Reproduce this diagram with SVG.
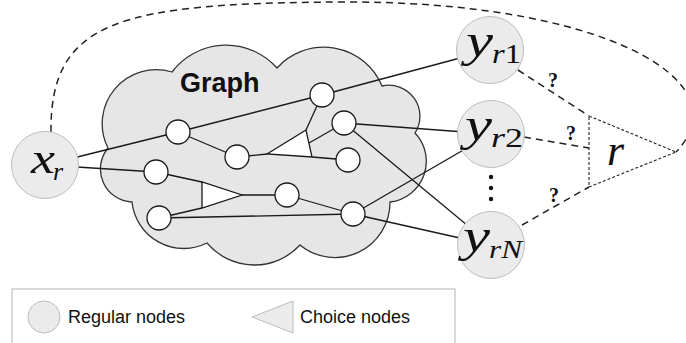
<svg xmlns="http://www.w3.org/2000/svg" width="686" height="343" viewBox="0 0 686 343">
<style>
.bub{fill:#ebebeb;stroke:#bdbdbd;stroke-width:1}
.gn{fill:#fff;stroke:#1a1a1a;stroke-width:1.3}
.edge{stroke:#1a1a1a;stroke-width:1.3;fill:none}
.dash{stroke:#222;stroke-width:1.5;stroke-dasharray:7 5;fill:none}
.fdash{stroke:#222;stroke-width:1.1;stroke-dasharray:3 2;fill:none}
.math{font-family:"Liberation Serif","Times New Roman",serif;font-style:italic;fill:#111}
.up{font-style:normal}
.q{font-family:"Liberation Serif","Times New Roman",serif;font-weight:bold;font-size:20px;fill:#111;text-anchor:middle}
.sans{font-family:"Liberation Sans",Arial,sans-serif;fill:#111}
</style>
<rect width="686" height="343" fill="#fff"/>
<g id="cloud">
<path d="M108 148 A54 54 0 0 1 172 72 A68 68 0 0 1 277 68 A63 63 0 0 1 382 86 A31 31 0 0 1 415 133 A41 41 0 0 1 390 202 A55 55 0 0 1 300 245 A62 62 0 0 1 207 243 A52 52 0 0 1 132 202 A33 33 0 0 1 108 148 Z" fill="#e6e6e6" stroke="#333" stroke-width="1.3"/>
<text class="sans" x="180" y="92" font-size="27" font-weight="bold">Graph</text>
</g>
<g id="connectors">
<path class="dash" d="M51 132 C50 20 120 3 343 2 C600 1 745 80 676 152"/>
<line class="edge" x1="45" y1="165" x2="178" y2="132"/>
<line class="edge" x1="178" y1="132" x2="322" y2="95"/>
<line class="edge" x1="322" y1="95" x2="490" y2="50"/>
<line class="edge" x1="45" y1="165" x2="156" y2="172"/>
<line class="edge" x1="178" y1="132" x2="237" y2="157"/>
<line class="edge" x1="237" y1="157" x2="267" y2="154"/>
<line class="edge" x1="322" y1="95" x2="306" y2="130"/>
<line class="edge" x1="344" y1="123" x2="309" y2="143"/>
<line class="edge" x1="312" y1="157" x2="348" y2="160"/>
<line class="edge" x1="156" y1="172" x2="202" y2="182"/>
<line class="edge" x1="159" y1="218" x2="202" y2="208"/>
<line class="edge" x1="242" y1="195" x2="287" y2="195"/>
<line class="edge" x1="159" y1="218" x2="353" y2="214"/>
<line class="edge" x1="287" y1="195" x2="353" y2="214"/>
<line class="edge" x1="344" y1="123" x2="491" y2="134"/>
<line class="edge" x1="344" y1="123" x2="491" y2="245"/>
<line class="edge" x1="353" y1="214" x2="491" y2="134"/>
<line class="edge" x1="353" y1="214" x2="491" y2="245"/>
<line class="dash" x1="518" y1="70" x2="589" y2="116"/>
<line class="dash" x1="524" y1="137" x2="589" y2="148"/>
<line class="dash" x1="522" y1="225" x2="589" y2="187"/>
<text class="q" x="553" y="87">?</text>
<text class="q" x="571" y="140">?</text>
<text class="q" x="554" y="202">?</text>
</g>
<g id="choice1"><polygon points="267,154 306,130 312,157" fill="#fff" stroke="#1a1a1a" stroke-width="1.3"/></g>
<g id="choice2"><polygon points="202,182 202,208 242,195" fill="#fff" stroke="#1a1a1a" stroke-width="1.3"/></g>
<g id="r">
<polygon class="fdash" points="589,116 676,152 589,187"/>
<text class="math" x="607" y="165" font-size="44">r</text>
</g>
<g id="nA"><circle class="gn" cx="178" cy="132" r="12"/></g>
<g id="nB"><circle class="gn" cx="322" cy="95" r="12"/></g>
<g id="nC"><circle class="gn" cx="237" cy="157" r="12"/></g>
<g id="nD"><circle class="gn" cx="344" cy="123" r="12"/></g>
<g id="nE"><circle class="gn" cx="348" cy="160" r="12"/></g>
<g id="nF"><circle class="gn" cx="156" cy="172" r="12"/></g>
<g id="nG"><circle class="gn" cx="287" cy="195" r="12"/></g>
<g id="nH"><circle class="gn" cx="159" cy="218" r="12"/></g>
<g id="nI"><circle class="gn" cx="353" cy="214" r="12"/></g>
<g id="xr">
<circle class="bub" cx="45" cy="165" r="33.5"/>
<text class="math" x="31" y="173" font-size="44" textLength="24" lengthAdjust="spacingAndGlyphs">x</text>
<text class="math" x="53" y="180" font-size="26">r</text>
</g>
<g id="yr1">
<circle class="bub" cx="490" cy="50" r="33.5"/>
<text class="math" x="466" y="56" font-size="46" textLength="27" lengthAdjust="spacingAndGlyphs">y</text>
<text class="math" x="492" y="63" font-size="28" textLength="29" lengthAdjust="spacingAndGlyphs">r<tspan class="up">1</tspan></text>
</g>
<g id="yr2">
<circle class="bub" cx="491" cy="134" r="33.5"/>
<text class="math" x="465" y="140" font-size="46" textLength="27" lengthAdjust="spacingAndGlyphs">y</text>
<text class="math" x="491" y="147" font-size="28" textLength="32" lengthAdjust="spacingAndGlyphs">r<tspan class="up">2</tspan></text>
</g>
<g id="dots">
<circle cx="491" cy="177" r="2.2" fill="#111"/>
<circle cx="491" cy="188" r="2.2" fill="#111"/>
<circle cx="491" cy="199" r="2.2" fill="#111"/>
</g>
<g id="yrN">
<circle class="bub" cx="491" cy="245" r="33.5"/>
<text class="math" x="463" y="251" font-size="46" textLength="27" lengthAdjust="spacingAndGlyphs">y</text>
<text class="math" x="489" y="258" font-size="26" textLength="33" lengthAdjust="spacingAndGlyphs">rN</text>
</g>
<g id="legend">
<rect x="12" y="289" width="443" height="70" fill="none" stroke="#b5b5b5" stroke-width="1"/>
<circle class="bub" cx="44" cy="317" r="16"/>
<text class="sans" x="68" y="323" font-size="18">Regular nodes</text>
<polygon points="252,317 293,301 293,333" fill="#ebebeb" stroke="#bdbdbd" stroke-width="1"/>
<text class="sans" x="300" y="323" font-size="18">Choice nodes</text>
</g>
</svg>
